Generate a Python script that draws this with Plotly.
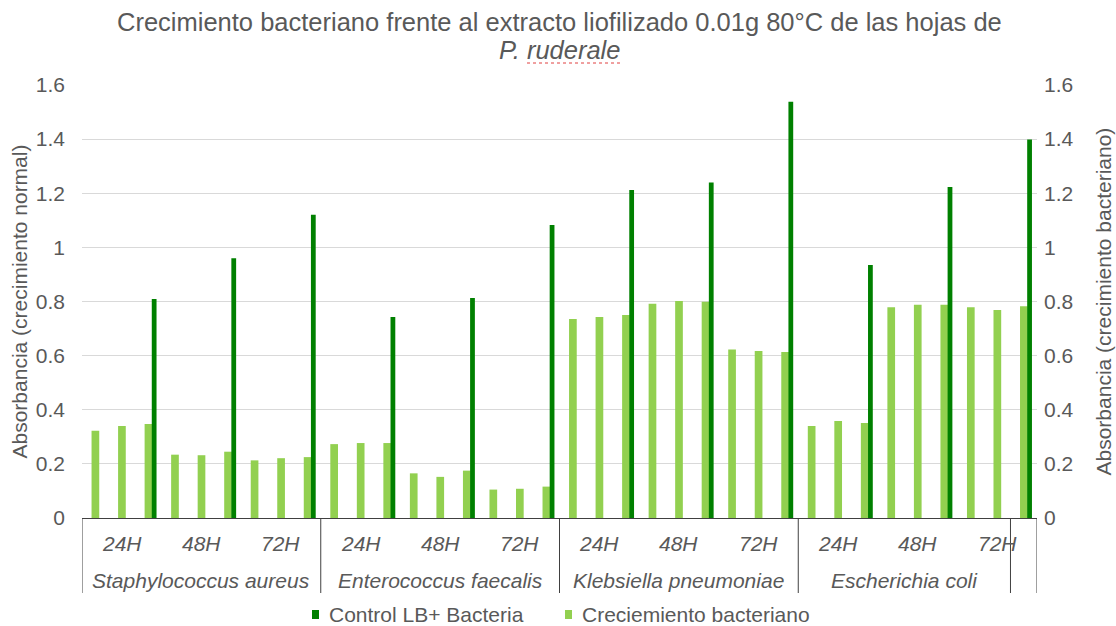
import plotly.graph_objects as go

# ---------------- data ----------------
bacterias = ["Staphylococcus aureus", "Enterococcus faecalis",
             "Klebsiella pneumoniae", "Escherichia coli", ""]
bacteria_n = [9, 9, 9, 8, 1]          # categories covered by each outer label
tiempos = ["24H", "48H", "72H"]
replicas = 3

crecimiento = [0.322, 0.340, 0.347, 0.234, 0.232, 0.245, 0.213, 0.221, 0.225,
               0.273, 0.277, 0.277, 0.165, 0.152, 0.175, 0.105, 0.108, 0.116,
               0.735, 0.743, 0.750, 0.792, 0.802, 0.799, 0.623, 0.617, 0.613,
               0.340, 0.358, 0.351, 0.779, 0.788, 0.788, 0.779, 0.769, 0.782]
control = [None, None, 0.809, None, None, 0.960, None, None, 1.121,
           None, None, 0.743, None, None, 0.813, None, None, 1.083,
           None, None, 1.212, None, None, 1.240, None, None, 1.538,
           None, None, 0.935, None, None, 1.223, None, None, 1.399]

series_names = ["Control LB+ Bacteria", "Creciemiento bacteriano"]
series_colors = ["#008000", "#92D050"]

n = len(crecimiento)
pos = list(range(1, n + 1))

GRAY = "#595959"
LINE = "#404040"
FONT = "Liberation Sans, Arial, sans-serif"
FS = 21

# pixel helpers for the plot frame (plot area 82..1037 x, 85..518 y)
L, R, T, B = 82, 1037, 85, 518
def px(x):
    return (x - L) / (R - L)
def py(y):
    return (B - y) / (B - T)

fig = go.Figure()
fig.add_trace(go.Bar(
    x=pos, y=crecimiento, name=series_names[1],
    marker=dict(color=series_colors[1], line=dict(width=0)),
    width=0.29, offset=-0.14, yaxis="y", showlegend=False))
fig.add_trace(go.Bar(
    x=pos, y=control, name=series_names[0],
    marker=dict(color=series_colors[0], line=dict(width=0)),
    width=0.18, offset=0.13, yaxis="y2", showlegend=False))

annotations = []
shapes = []
label_bottom = py(593)

# inner (time) labels
ngroups = n // replicas
for g in range(ngroups):
    c = sum(pos[g * replicas:(g + 1) * replicas]) / replicas
    annotations.append(dict(x=c, y=py(543), xref="x", yref="paper",
                            text="<i>%s</i>" % tiempos[g % len(tiempos)],
                            showarrow=False, xanchor="center", yanchor="middle",
                            font=dict(family=FONT, size=FS, color=GRAY)))

# outer (bacteria) labels + dividers
start = 0
bounds = [pos[0] - 0.5]
for name, k in zip(bacterias, bacteria_n):
    seg = pos[start:start + k]
    c = (seg[0] + seg[-1]) / 2
    if name:
        annotations.append(dict(x=c, y=py(580), xref="x", yref="paper",
                                text="<i>%s</i>" % name, showarrow=False,
                                xanchor="center", yanchor="middle",
                                font=dict(family=FONT, size=FS, color=GRAY)))
    bounds.append(seg[-1] + 0.5)
    start += k
for b in bounds:
    shapes.append(dict(type="line", xref="x", yref="paper", x0=b, x1=b,
                       y0=0, y1=label_bottom, line=dict(color=LINE, width=1)))

# axis titles
annotations.append(dict(x=px(19), y=0.5, xref="paper", yref="paper",
                        xanchor="center", yanchor="middle",
                        text="Absorbancia (crecimiento normal)", textangle=-90,
                        showarrow=False, font=dict(family=FONT, size=FS, color=GRAY)))
annotations.append(dict(x=px(1103), y=0.5, xref="paper", yref="paper",
                        xanchor="center", yanchor="middle",
                        text="Absorbancia (crecimiento bacteriano)", textangle=-90,
                        showarrow=False, font=dict(family=FONT, size=FS, color=GRAY)))

# title (two lines)
annotations.append(dict(x=0.5, xref="paper", y=py(22), yref="paper",
                        xanchor="center", yanchor="middle", showarrow=False,
                        text="Crecimiento bacteriano frente al extracto liofilizado 0.01g 80°C de las hojas de",
                        font=dict(family=FONT, size=25.5, color=GRAY)))
annotations.append(dict(x=0.5, xref="paper", y=py(50), yref="paper",
                        xanchor="center", yanchor="middle", showarrow=False,
                        text="<i>P. ruderale</i>",
                        font=dict(family=FONT, size=25.5, color=GRAY)))
# spell-check squiggle under "ruderale"
shapes.append(dict(type="line", xref="paper", yref="paper",
                   x0=px(527), x1=px(622), y0=py(63), y1=py(63),
                   line=dict(color="#E04040", width=1, dash="dot")))

# manual legend
leg_sq_x = [312, 565]
leg_tx_x = [327, 580]
for nm, col, sx, tx in zip(series_names, series_colors, leg_sq_x, leg_tx_x):
    shapes.append(dict(type="rect", xref="paper", yref="paper",
                       x0=px(sx), x1=px(sx + 7), y0=py(619), y1=py(610),
                       fillcolor=col, line=dict(width=0)))
    annotations.append(dict(x=px(tx), y=py(614), xref="paper", yref="paper",
                            xanchor="left", yanchor="middle", showarrow=False,
                            text=nm, font=dict(family=FONT, size=FS, color=GRAY)))

fig.update_layout(
    width=1116, height=626,
    margin=dict(l=L, r=1116 - R, t=T, b=626 - B, autoexpand=False),
    paper_bgcolor="white", plot_bgcolor="white",
    barmode="overlay", showlegend=False, hovermode=False,
    xaxis=dict(range=[0.5, n + 0.5], showticklabels=False, showgrid=False,
               zeroline=False, showline=True, linecolor=LINE, linewidth=1,
               ticks="", automargin=False),
    yaxis=dict(range=[0, 1.6], dtick=0.2, showgrid=True, gridcolor="#D9D9D9",
               gridwidth=1, zeroline=False, showline=False, ticks="",
               ticklabelstandoff=16, automargin=False,
               tickfont=dict(family=FONT, size=FS, color=GRAY)),
    yaxis2=dict(range=[0, 1.6], dtick=0.2, overlaying="y", side="right",
                showgrid=False, zeroline=False, showline=False, ticks="",
                ticklabelstandoff=6, automargin=False,
                tickfont=dict(family=FONT, size=FS, color=GRAY)),
    annotations=annotations, shapes=shapes,
)

fig.write_html("out.html", config={"displayModeBar": False},
               post_script="document.body.style.margin='0';document.body.style.overflow='hidden';")
